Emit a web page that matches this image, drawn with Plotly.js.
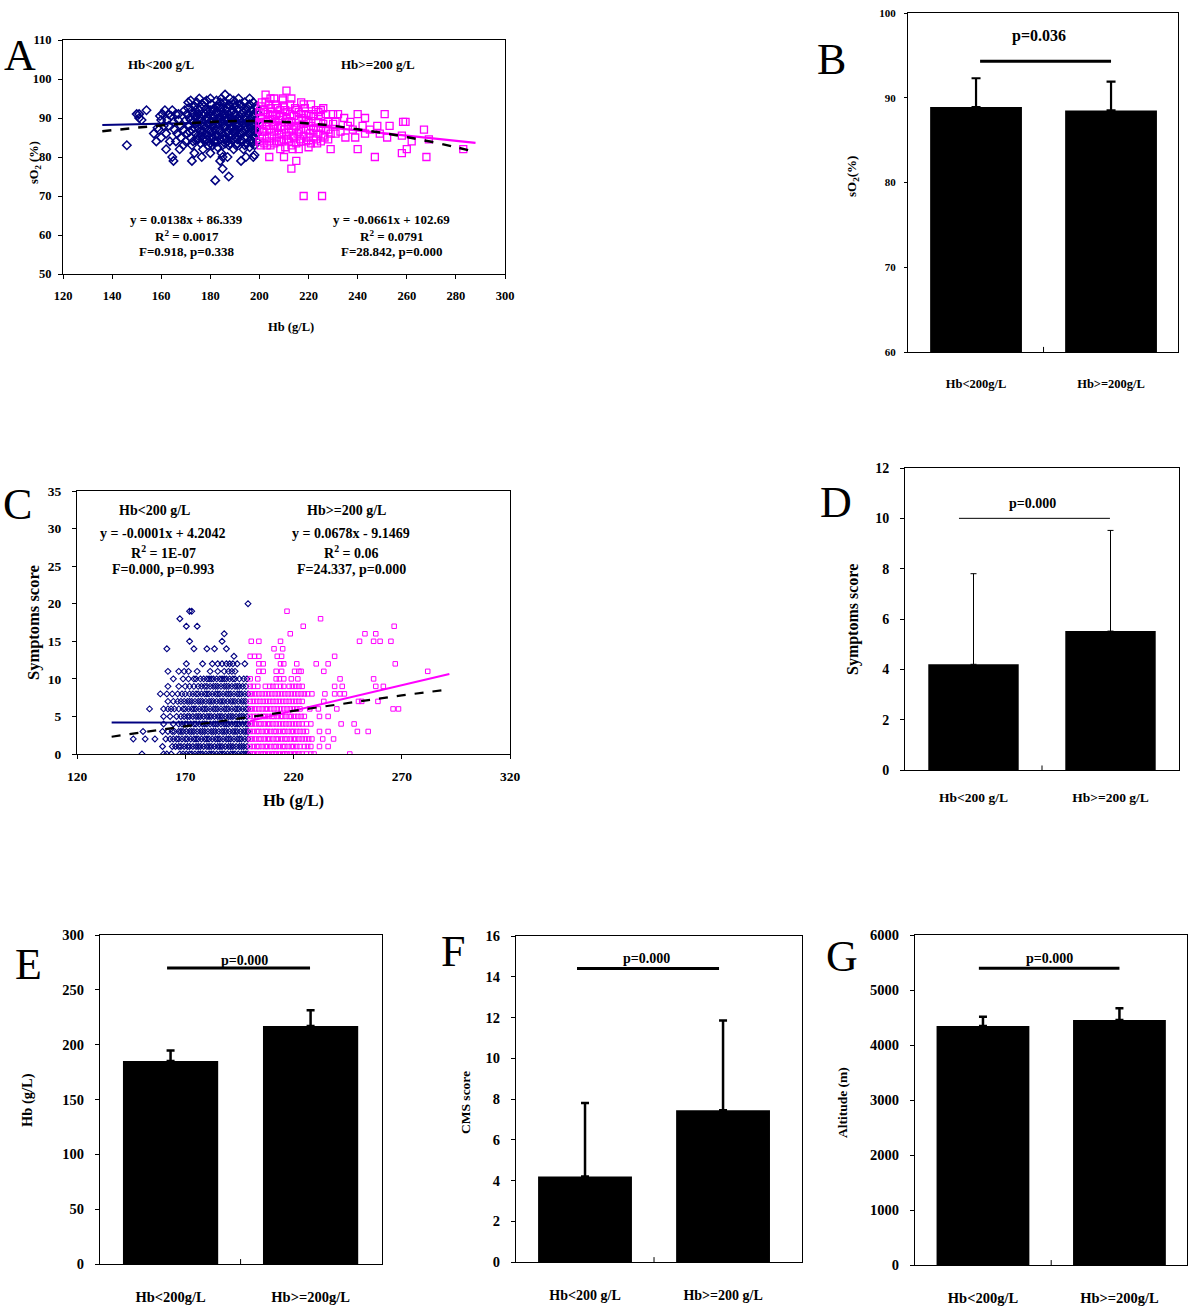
<!DOCTYPE html>
<html><head><meta charset="utf-8">
<script src="https://cdn.plot.ly/plotly-3.0.1.min.js"></script>
<style>html,body{margin:0;padding:0;background:#fff}#chart{width:1200px;height:1315px}</style>
</head><body><div id="chart"></div>
<script>
// ---------------- Panel A data: Hb (g/L) vs sO2 (%) ----------------
const aLowPts = [
 [146,83],[150,91],[151,90],[152,89.5],[154,92],[151,91],
 [158.5,87.5],[159,87],[160,89.5],[160.5,91],[161.5,92],[162.5,89.5],[163.5,84],[164.5,80],[165,79],[162,82],[160,85],
 [164.5,92],[166,91],[167,89.5],[167.5,82],[168,85],[169,87],[169.5,92],[170,89.5],[163,88],[165.5,87],[166.5,86],[161,88],[164,90.5],[167,91],
 [172.5,79],[173.5,81],[176.5,80],[177,82],[172.5,83],[174.5,84.5],[180,81],[181,83],[178.5,84.5],[175,85.5],[171.5,88],
 [171,94],[172,94.5],[175.5,95],[177.5,94],[180,95],[173.5,93],
 [182,74],[185,77],[187.5,75],[184.5,81],[185,80],[187,80],[184,79],[183,82.5],[189.5,82],[190.5,83],
 [186,96],[188,95],[182.5,94.5],[184,94],[189.5,94.5],
 [192.5,79],[194.5,80],[197.5,80],[198,80.5],[193.5,82],[196,82.5],[197,83.5],
 [191.5,95],[196,95],[194,94],[197.5,94],
 [170.5,86],[171,88],[171.5,90],[171,92.5],[172,85],[172.5,87],[173,89],[173,91],[173.5,93],[174,86],[174,88.5],[174.5,90.5],
 [175,84.5],[175,87.5],[175.5,89.5],[175.5,92],[176,85.5],[176.5,88],[176.5,91],[177,86.5],[177,89],[177.5,93],[178,84],[178,87.5],
 [178.5,90],[178.5,92],[179,85.5],[179,88.5],[179.5,91],[180,83.5],[180,86.5],[180.5,89],[180.5,93.5],[181,85],[181,88],[181.5,90.5],
 [181.5,92.5],[182,84],[182,87],[182.5,89.5],[182.5,91.5],[183,85.5],[183,88.5],[183.5,90],[183.5,93],[184,84.5],[184,87],[184.5,89],
 [184.5,91.5],[185,83],[185,86],[185.5,88],[185.5,90.5],[185.5,94],[186,85],[186,87.5],[186.5,89.5],[186.5,92],[187,84],[187,86.5],
 [187.5,88.5],[187.5,91],[187.5,93.5],[188,83.5],[188,85.5],[188.5,87.5],[188.5,90],[189,92],[189,84.5],[189.5,86.5],[189.5,89],[190,91],
 [190,93],[190.5,85],[190.5,88],[191,90],[191,83.5],[191.5,86],[191.5,92.5],[192,87.5],[192,89.5],[192.5,84.5],[192.5,91],[193,86.5],
 [193,93],[193.5,88.5],[194,85],[194,90.5],[194.5,87],[194.5,92],[195,83.5],[195,89],[195.5,86],[195.5,91],[196,88],[196,93.5],
 [196.5,84.5],[196.5,90],[197,86.5],[197,92],[197.5,88.5],[198,85],[198,90.5],[198.5,87],[198.5,93],[199,89],[199,84],[199,91.5],
 [176,90],[179,90],[183,91],[186,91],[189,88],[192,90.5],[195,87.5],[198,88],[177,84.5],[180,92],[184,92.5],[187,90],[190,86],[193,84],
 [196,86.5],[199,86],[174,92],[178,86],[182,85.5],[186,83.5],[190,89.5],[194,88],[197,90.5],[181,86.5],[185,92.5],[188,93],[191,87],[195,92.5],
 [170,84],[170.5,91],[171.5,86.5],[172,89.5],[172.5,92],[173,84],[173.5,87.5],[174,90],[174.5,94],[175,91],[176,83.5],[176,86.5],
 [176.5,93.5],[177.5,85],[177.5,88],[178,91],[178.5,94.5],[179,83],[179.5,87],[180,90.5],[180.5,85.5],[181,92],[181.5,84],[182,88.5],
 [182.5,93],[183,84],[183.5,86.5],[184,90],[184.5,95],[185,88.5],[185.5,84.5],[186,90],[186.5,86],[187,92.5],[187.5,83],[188,89],
 [188.5,91.5],[189,85.5],[189.5,93.5],[190,87],[190.5,90.5],[191,84.5],[191.5,88.5],[192,93.5],[192.5,86],[193,89],[193.5,91.5],[194,83],
 [194.5,89.5],[195,85],[195.5,93],[196,89.5],[196.5,87.5],[197,84],[197.5,91],[198,86.5],[198.5,89.5],[199,92.5],[199,87.5],[198,83],
 [157,86],[158,84],[159.5,90.5],[162,86],[163,91],[165,89],[166,84],[168,88],[169,83]
];
const aHighPts = [
 [200,84],[200,87],[200.5,90],[200.5,93],[201,85.5],[201,88.5],[201.5,91.5],[202,83.5],[202,86.5],[202.5,89],[202.5,94],[203,85],
 [203,88],[203.5,91],[204,84],[204,87],[204.5,89.5],[204.5,92.5],[205,85.5],[205.5,88],[205.5,90.5],[206,83.5],[206,86.5],[206.5,89],
 [206.5,93.5],[207,85],[207,91],[207.5,87.5],[208,84],[208,89.5],[208.5,92],[209,86],[209,88],[209.5,90.5],[209.5,94.5],[210,84.5],
 [210,87],[210.5,89],[210.5,92],[211,85.5],[211,90],[211.5,88],[212,84],[212,86.5],[212.5,91],[212.5,93.5],[213,83],[213,89],
 [213.5,87],[214,85],[214,90.5],[214.5,92.5],[215,83.5],[215,88],[215.5,86],[216,89.5],[216,91.5],[216.5,84.5],[217,87],[217.5,90],
 [218,85.5],[218,88.5],[218.5,92.5],[219,84],[219,87],[220,89],[220,91],[220.5,86],[221,83.5],[221,88],[222,90.5],[222,85],
 [223,87.5],[223,92],[224,89],[224,86],[225,90.5],[225,87.5],[226,88.5],[226,85.5],[227,91],[228,87],[228,89],
 [200,89],[200,91.5],[201,94],[201.5,86.5],[202,92],[203,83],[203.5,89.5],[204,93.5],[205,91.5],[206,88],[206,95],[207,84],
 [207.5,92.5],[208,86],[208.5,90.5],[209,84],[210,93],[211,91.5],[211.5,84.5],[212,89],[213,95],[213.5,85.5],[214,88],[215,92],
 [216,86.5],[217,84],[217,91],[218,93.5],[219,89.5],[220,85],[221,90.5],[222,87],[223,84.5],[224,91.5],[225,84],[226,92.5],
 [227,87],[228,84.5],[230,91],[231,86],
 [218,70],[225.5,70],[213,77],[215,79],[204,80],[210,80],[229,82],[240,82],[247,80],[258,81],[260,82],[268,80],[283,82],
 [269,84.5],[262,84],[258,85.5],[267,87],[258.5,89],[259.5,89],[251,91],[253,88],[252,85],[248,88],[243,90],[240,91],[242,88],
 [243,86],[239,85],[235,85],[232,91],[234.5,90],[230,88.5],[233,86.5],[229,86],[202.5,96],[211,97],[209.5,95],[204.5,95],[217,94],
 [221,93.5],[225,92],[222,91],[200.5,83],[204.5,83],[208.5,82],[210.5,82.5],[213.5,82],[216,82],[220,82.5],[223.5,83.5],[226.5,85],
 [236,88],[238,87],[245,87],[249,86],[231,89],[237,89]
];
const aLowFitX = [136, 199];      // y = 0.0138x + 86.339
const aLowFitY = [88.2, 89.1];
const aHighFitX = [199, 288];     // y = -0.0661x + 102.69
const aHighFitY = [89.5, 83.6];
const aTrendX = [136,150,160,170,180,190,200,210,220,230,240,250,260,270,280,288];
const aTrendY = [86.6,87.5,88.1,88.6,89.0,89.2,89.2,89.0,88.6,88.0,87.1,86.2,85.1,83.9,82.5,81.3];

// ---------------- Panel C data: Hb (g/L) by symptoms score (index = score) ----------------
const cLowByScore = [
 [150,160,161.5,163.5,167.5,169,170.5,172,173,174.5,176,177,178,179.5,181,182,183,184.5,186,187,188,189.5,191,192,193,194.5,196,197,198,199],
 [159.5,164,165.5,167,168,169.5,171,172,173.5,175,176,177,178.5,180,181,182,183.5,185,186,187,188.5,190,191,192,193.5,195,196,197,198.5],
 [146,151.5,156,161,163,164.5,166,167,168.5,170,171,172.5,174,175,176,177.5,179,180,181,182.5,184,185,186,187.5,189,190,191,192.5,194,195,196,197.5,199],
 [150.5,159.5,162,164,165,167,168,169,170.5,172,173,174,175.5,177,178,179,180.5,182,183,184,185.5,187,188,189,190.5,192,193,194,195.5,197,198,199],
 [160,164.5,167,168.5,170,171,172.5,174,175,176.5,178,179,180,181.5,183,184,185,186.5,188,189,190,191.5,193,194,195,196.5,198,199],
 [160,163,166,168,169.5,171,172,173.5,175,176,177,178.5,180,181,182,183.5,185,186,187,188.5,190,191,192,193.5,195,196,197,198.5],
 [153.5,160,162,163.5,165,167,169,170,171.5,173,174,175,176.5,178,179,180,181.5,183,184,185,186.5,188,189,190,191.5,193,194,195,196.5,198,199],
 [162,164.5,166.5,168,169.5,171,172,173,174.5,176,177,178,179.5,181,182,183,184.5,186,187,188,189.5,191,192,193,194.5,196,197,198],
 [158.5,161.5,164,166.5,168.5,170,172,173.5,175,176,177.5,179,180,181,182.5,184,185,186,187.5,189,190,191,192.5,194,195,196,197.5,199],
 [162,167,170,172,174,176,177.5,179,180,181.5,183,184,185,186.5,188,189,190,191.5,193,194,195,196.5,198],
 [164.5,169,171.5,174,175,177,178.5,180,181,182,183,184.5,186,187,188,189,190.5,192,193,195,197,198.5],
 [162,167,169.5,171.5,175.5,181.5,185,188,190,191.5,193],
 [170.5,178,182.5,185,187,189,190.5,192,194,197.5],
 [192.5],
 [161.5,174,180,183.5,189],
 [172,187],
 [188],
 [170.5,175.5],
 [167.5],
 [172,173],
 [199]
];
const cHighByScore = [
 [200,201,202,203.5,205,206,207,208.5,210,211,212,213.5,215,216,217,218.5,220,221,222.5,224,226,228,229.5,246],
 [200,201.5,203,204,205.5,207,208,209.5,211,212,213.5,215,216,217.5,219,220,221.5,223,225,226.5,228,232,236],
 [200,201,202.5,204,205,206.5,208,209,210.5,212,213,214.5,216,217,218.5,220,221,222.5,224,225.5,227,228.5,233.5,238.5],
 [200,201.5,203,204,205.5,207,208,209.5,211,212,213.5,215,216,217.5,219,220,221.5,223,224.5,226,232,236,249.5,254.5],
 [200,201,202.5,204,205,206.5,208,209,210.5,212,213.5,215,216.5,218,219.5,221,222.5,224,226,228,242,248],
 [200,201.5,203,204.5,206,207,208.5,210,211,212.5,214,215,216.5,218,219,220.5,222,223.5,225,232,236],
 [200,201,202.5,204,205.5,207,208,209.5,211,212.5,214,215.5,217,218.5,220,221.5,223,227.5,231.5,240,266,268.5],
 [200,201.5,203,204.5,206,207.5,209,210.5,212,213.5,215,216.5,218,219.5,221,222.5,224,234,250,251.5,259],
 [200,201,202.5,204,205.5,207,208.5,210,211.5,213,214.5,216,217.5,219,220.5,222,223.5,225,226.5,228.5,234.5,239,241.5,243.5],
 [200,201.5,203.5,207,209,210.5,212,214,215.5,218,219.5,221,222.5,224,239,242.5,258,261.5],
 [200,203.5,212,213.5,215.5,219,222,241.5,257],
 [204,206,212,214.5,220.5,222.5,223.5,234,282],
 [204,206,214,215.5,221.5,230.5,236,267],
 [200,202,204,212.5,214.5,239],
 [211,215],
 [200.5,204,214,250.5,257,260,265],
 [218.5,253,258],
 [224.5,266.5],
 [232.5],
 [217]
];
const cLowFitX = [136, 200];      // y = -0.0001x + 4.2042
const cLowFitY = [4.19, 4.18];
const cHighFitX = [200, 292];     // y = 0.0678x - 9.1469
const cHighFitY = [4.4, 10.65];
const cTrendX = [136,170,200,240,270,292];
const cTrendY = [2.3,3.7,4.9,6.6,7.8,8.6];

// ---------------- Bar panels ----------------
const groupsNoSpace = ['Hb<200g/L', 'Hb>=200g/L'];
const groupsSpace = ['Hb<200 g/L', 'Hb>=200 g/L'];
const bSo2 = [88.9, 88.5];      const bSo2Err = [3.4, 3.4];
const dSymptoms = [4.2, 5.52];  const dSymptomsErr = [3.6, 4.0];
const eHb = [185.2, 217.1];     const eHbErr = [9.4, 14.3];
const fCms = [4.2, 7.45];       const fCmsErr = [3.6, 4.4];
const gAltitude = [4345, 4454]; const gAltitudeErr = [170, 213];

// ---------------- layout helpers ----------------
const W = 1200, H = 1315;
const FONT = 'Liberation Serif, Times New Roman, serif';
const NAVY = '#000080', PINK = '#ff00ff';
const px = (x) => x / W;
const py = (y) => 1 - y / H;
const dom = (a, b) => [a / W, b / W];
const domY = (top, bottom) => [1 - bottom / H, 1 - top / H];

function axis(domain, range, opts) {
  return Object.assign({
    domain: domain, range: range, showline: true, mirror: true, linecolor: '#000', linewidth: 1,
    ticks: 'outside', ticklen: 4, tickwidth: 1, tickcolor: '#000', showgrid: false, zeroline: false,
    fixedrange: true, tickfont: {family: FONT, size: 13, color: '#000', weight: 'bold'}
  }, opts || {});
}

const traces = [];
function xy(pts) { return {x: pts.map(p => p[0]), y: pts.map(p => p[1])}; }
function rows(byScore) {
  const x = [], y = [];
  byScore.forEach((r, s) => r.forEach(v => { x.push(v); y.push(s); }));
  return {x, y};
}

// Panel A
traces.push({type:'scatter', mode:'lines', x:aLowFitX, y:aLowFitY, xaxis:'x', yaxis:'y', line:{color:NAVY, width:2.2}});
const aL = xy(aLowPts), aH = xy(aHighPts);
traces.push({type:'scatter', mode:'markers', x:aL.x, y:aL.y, xaxis:'x', yaxis:'y',
  marker:{symbol:'diamond-open', size:6.5, color:NAVY, line:{width:1.5, color:NAVY}}});
traces.push({type:'scatter', mode:'markers', x:aH.x, y:aH.y, xaxis:'x', yaxis:'y',
  marker:{symbol:'square-open', size:7, color:PINK, line:{width:1.3, color:PINK}}});
traces.push({type:'scatter', mode:'lines', x:aHighFitX, y:aHighFitY, xaxis:'x', yaxis:'y', line:{color:PINK, width:2.2}});
traces.push({type:'scatter', mode:'lines', x:aTrendX, y:aTrendY, xaxis:'x', yaxis:'y', line:{color:'#000', width:2.5, dash:'dash', shape:'spline'}});

// Panel C
traces.push({type:'scatter', mode:'lines', x:cLowFitX, y:cLowFitY, xaxis:'x3', yaxis:'y3', line:{color:NAVY, width:1.8}});
const cL = rows(cLowByScore), cH = rows(cHighByScore);
traces.push({type:'scatter', mode:'markers', x:cL.x, y:cL.y, xaxis:'x3', yaxis:'y3',
  marker:{symbol:'diamond-open', size:4.5, color:NAVY, line:{width:1.1, color:NAVY}}});
traces.push({type:'scatter', mode:'markers', x:cH.x, y:cH.y, xaxis:'x3', yaxis:'y3',
  marker:{symbol:'square-open', size:4.5, color:PINK, line:{width:1, color:PINK}}});
traces.push({type:'scatter', mode:'lines', x:cHighFitX, y:cHighFitY, xaxis:'x3', yaxis:'y3', line:{color:PINK, width:2}});
traces.push({type:'scatter', mode:'lines', x:cTrendX, y:cTrendY, xaxis:'x3', yaxis:'y3', line:{color:'#000', width:2.2, dash:'dash'}});

// Bars
function bars(vals, errs, xa, ya, width, thick, cap) {
  return {type:'bar', x:[0,1], y:vals, xaxis:xa, yaxis:ya, width:width, marker:{color:'#000', line:{width:0}},
    error_y:{type:'data', symmetric:false, array:errs, arrayminus:[0,0], color:'#000', thickness:thick, width:cap}};
}
traces.push(bars(bSo2, bSo2Err, 'x2', 'y2', 0.68, 2.2, 4.5));
traces.push(bars(dSymptoms, dSymptomsErr, 'x4', 'y4', 0.66, 1, 3));
traces.push(bars(eHb, eHbErr, 'x5', 'y5', 0.68, 2.5, 4));
traces.push(bars(fCms, fCmsErr, 'x6', 'y6', 0.68, 2.5, 4));
traces.push(bars(gAltitude, gAltitudeErr, 'x7', 'y7', 0.68, 2.5, 4));

function catAxis(domain, range, anchor, labels, size, standoff) {
  return axis(domain, range, {anchor:anchor, tickvals:[0,1], ticktext:labels, ticks:'', ticklabelstandoff:standoff,
    tickfont:{family:FONT, size:size, color:'#000', weight:'bold'}});
}
const tf = (s) => ({family: FONT, size: s, color: '#000', weight: 'bold'});

const layout = {
  width: W, height: H, margin: {l:0, r:0, t:0, b:0}, showlegend: false,
  paper_bgcolor: '#fff', plot_bgcolor: 'rgba(0,0,0,0)',
  font: {family: FONT, color: '#000'},
  xaxis: axis(dom(63,505), [120,300], {anchor:'y', dtick:20, tick0:120, tickfont:tf(12.5), ticklabelstandoff:6}),
  yaxis: axis(domY(40,274), [50,110], {anchor:'x', dtick:10, tickfont:tf(12.5), ticklabelstandoff:4}),
  xaxis2: catAxis(dom(908,1178), [-0.504,1.496], 'y2', groupsNoSpace, 12.5, 20),
  yaxis2: axis(domY(13,352), [60,100], {anchor:'x2', dtick:10, ticklen:3, tickfont:tf(11), ticklabelstandoff:6}),
  xaxis3: axis(dom(77,510), [120,320], {anchor:'y3', dtick:50, tick0:120, tickfont:tf(13.5), ticklabelstandoff:6}),
  yaxis3: axis(domY(491,754), [0,35], {anchor:'x3', dtick:5, tickfont:tf(13.5), ticklabelstandoff:8}),
  xaxis4: catAxis(dom(905,1179), [-0.5,1.5], 'y4', groupsSpace, 13.5, 15),
  yaxis4: axis(domY(468,770), [0,12], {anchor:'x4', dtick:2, tickfont:tf(14), ticklabelstandoff:8}),
  xaxis5: catAxis(dom(100,382), [-0.504,1.51], 'y5', groupsNoSpace, 14.5, 20),
  yaxis5: axis(domY(935,1264), [0,300], {anchor:'x5', dtick:50, tickfont:tf(14.5), ticklabelstandoff:8}),
  xaxis6: catAxis(dom(516,802), [-0.5,1.572], 'y6', groupsSpace, 14, 20),
  yaxis6: axis(domY(936,1262), [0,16], {anchor:'x6', dtick:2, tickfont:tf(14.5), ticklabelstandoff:8}),
  xaxis7: catAxis(dom(915,1187), [-0.498,1.495], 'y7', groupsNoSpace, 14.5, 20),
  yaxis7: axis(domY(935,1265), [0,6000], {anchor:'x7', dtick:1000, tickfont:tf(14.5), ticklabelstandoff:8}),
  shapes: [], annotations: []
};

// significance lines + category divider ticks
function sig(xa, ya, x0, x1, y, w) {
  layout.shapes.push({type:'line', xref:xa, yref:ya, x0:x0, x1:x1, y0:y, y1:y, line:{color:'#000', width:w}});
  layout.shapes.push({type:'line', xref:xa, yref:ya + ' domain', x0:0.5, x1:0.5, y0:0, y1:0.015, line:{color:'#000', width:1}});
}
sig('x2','y2', 0.03, 1.0, 94.3, 3);
sig('x4','y4', -0.106, 0.996, 10.0, 1);
sig('x5','y5', -0.025, 0.996, 270, 3);
sig('x6','y6', -0.058, 0.971, 14.4, 3);
sig('x7','y7', -0.03, 1.0, 5394, 3);

function note(text, xa, ya, x, y, size, extra) {
  layout.annotations.push(Object.assign({text:text, xref:xa, yref:ya, x:x, y:y, showarrow:false,
    xanchor:'center', yanchor:'middle', font:{family:FONT, size:size, color:'#000', weight:'bold'}}, extra || {}));
}
// p-values
note('p=0.036', 'x2','y2', 0.47, 97.3, 16);
note('p=0.000', 'x4','y4', 0.43, 10.6, 14);
note('p=0.000', 'x5','y5', 0.525, 276.5, 14);
note('p=0.000', 'x6','y6', 0.442, 14.9, 14);
note('p=0.000', 'x7','y7', 0.49, 5576, 14);

// Panel A text
note('Hb<200 g/L', 'x','y', 160, 103.8, 13);
note('Hb>=200 g/L', 'x','y', 248.4, 103.8, 13);
note('y = 0.0138x + 86.339', 'x','y', 170.3, 63.85, 13);
note('R<sup>2</sup> = 0.0017', 'x','y', 170.3, 59.75, 13);
note('F=0.918, p=0.338', 'x','y', 170.3, 55.7, 13);
note('y = -0.0661x + 102.69', 'x','y', 253.8, 63.85, 13);
note('R<sup>2</sup> = 0.0791', 'x','y', 253.8, 59.75, 13);
note('F=28.842, p=0.000', 'x','y', 253.8, 55.7, 13);

// Panel C text
note('Hb<200 g/L', 'x3','y3', 156, 32.4, 14);
note('y = -0.0001x + 4.2042', 'x3','y3', 159.9, 29.4, 14);
note('R<sup>2</sup> = 1E-07', 'x3','y3', 159.9, 26.9, 14);
note('F=0.000, p=0.993', 'x3','y3', 159.9, 24.6, 14);
note('Hb>=200 g/L', 'x3','y3', 244.6, 32.4, 14);
note('y = 0.0678x - 9.1469', 'x3','y3', 246.6, 29.4, 14);
note('R<sup>2</sup> = 0.06', 'x3','y3', 246.6, 26.9, 14);
note('F=24.337, p=0.000', 'x3','y3', 246.6, 24.6, 14);

// Axis titles (positioned in page pixels)
function ptitle(text, x, y, size, rot) {
  note(text, 'paper', 'paper', px(x), py(y), size, rot ? {textangle:-90} : {});
}
ptitle('sO<sub>2</sub> (%)', 35, 163, 12.5, true);
ptitle('Hb (g/L)', 291, 327, 12.5, false);
ptitle('sO<sub>2</sub>(%)', 852, 177, 13, true);
ptitle('Symptoms score', 33, 623, 16.5, true);
ptitle('Hb (g/L)', 293, 800, 16.5, false);
ptitle('Symptoms score', 853, 620, 16, true);
ptitle('Hb (g/L)', 27, 1100, 14.5, true);
ptitle('CMS score', 465, 1103, 13.5, true);
ptitle('Altitude (m)', 842, 1103, 13.5, true);

// Panel letters
function letter(t, x, y) {
  layout.annotations.push({text:t, xref:'paper', yref:'paper', x:px(x), y:py(y), showarrow:false,
    xanchor:'center', yanchor:'middle', font:{family:FONT, size:44, color:'#000', weight:'normal'}});
}
letter('A', 20, 55); letter('B', 831, 60); letter('C', 17, 504); letter('D', 836, 502);
letter('E', 28, 965); letter('F', 453, 952); letter('G', 842, 956);

Plotly.newPlot('chart', traces, layout, {displayModeBar:false, staticPlot:true});
</script></body></html>
